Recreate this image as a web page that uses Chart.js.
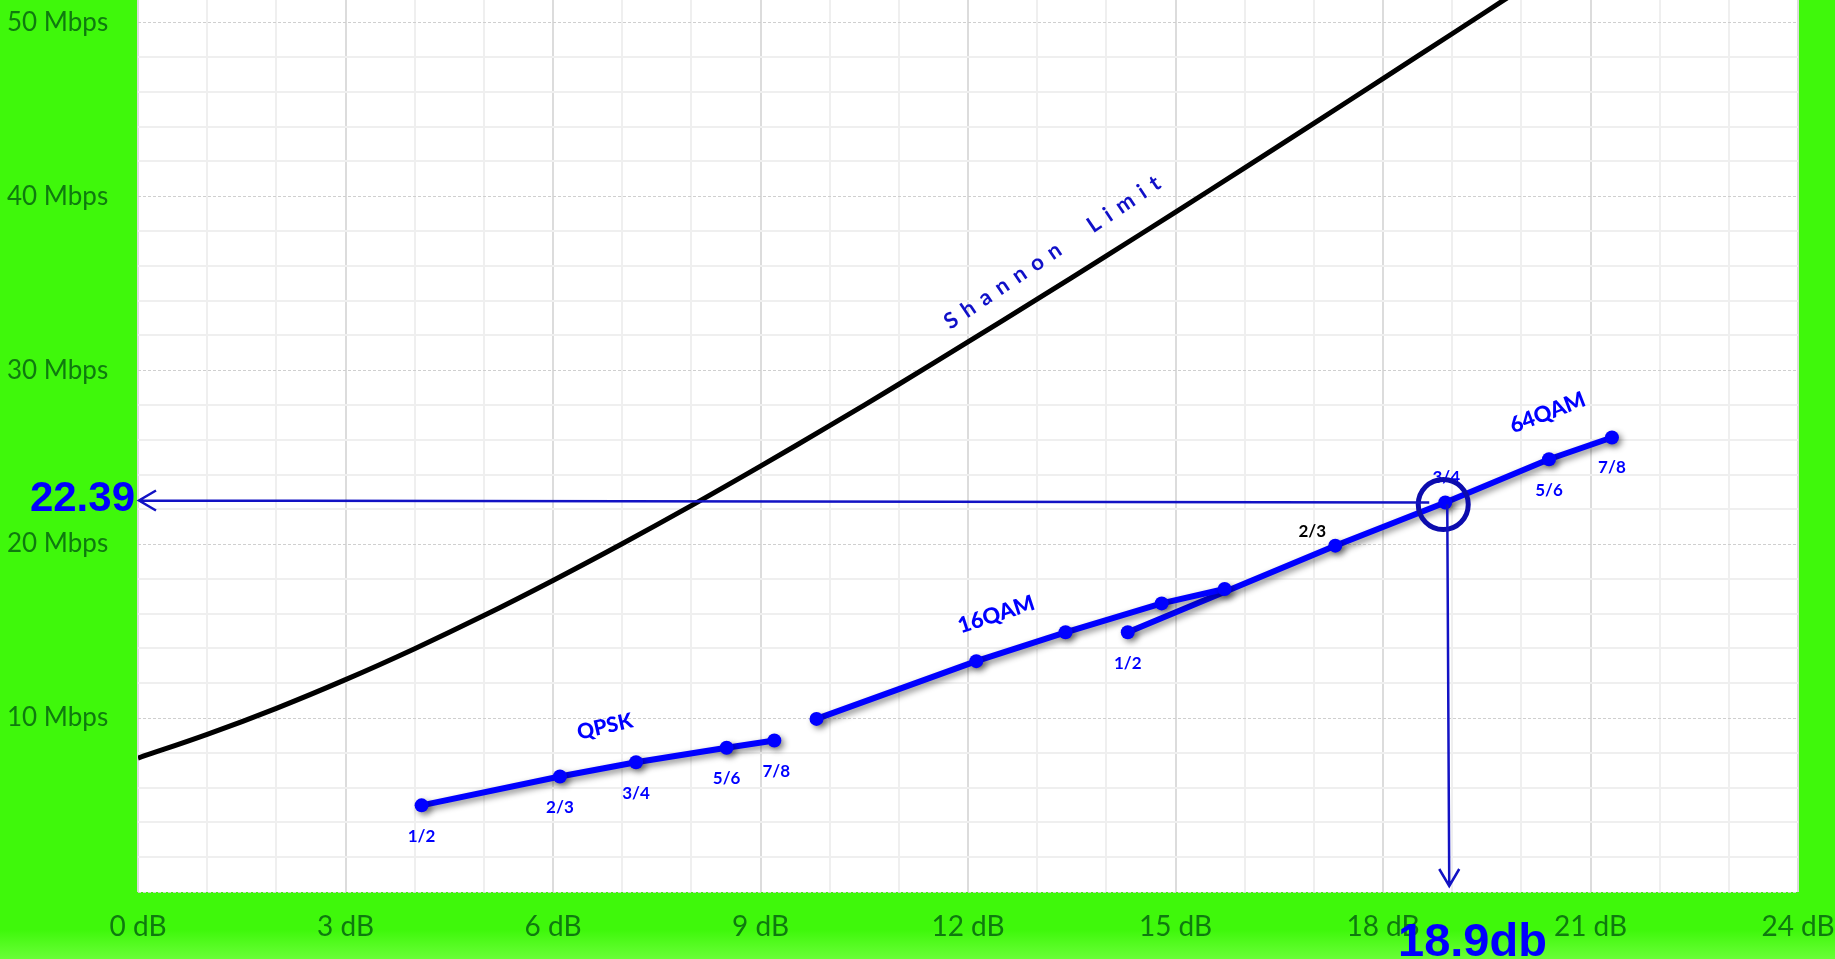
<!DOCTYPE html>
<html>
<head>
<meta charset="utf-8">
<script src="https://cdn.jsdelivr.net/npm/chart.js@4"></script>
<style>
  html, body { margin: 0; padding: 0; background: #3ff80b; }
  #wrap { width: 1835px; height: 959px; }
</style>
</head>
<body>
<div id="wrap"><canvas id="snr-chart" width="1835" height="959"></canvas></div>
<script>
// Shannon limit, every 1 dB
var snrDb = [0, 1, 2, 3, 4, 5, 6, 7, 8, 9, 10, 11, 12, 13, 14, 15, 16, 17, 18, 19, 20, 21];
var shannonMbps = [7.70, 9.06, 10.56, 12.21, 13.99, 15.89, 17.91, 20.02, 22.21, 24.48, 26.81,
                   29.19, 31.62, 34.08, 36.57, 39.09, 41.63, 44.19, 46.76, 49.34, 51.93, 54.54];

// modulation / code rate points
var codeRates = ['1/2', '2/3', '3/4', '5/6', '7/8'];
var qpskDb = [4.10, 6.10, 7.20, 8.51, 9.20];
var qpskMbps = [4.98, 6.64, 7.46, 8.29, 8.71];
var qam16Db = [9.81, 12.12, 13.41, 14.80, 15.71];
var qam16Mbps = [9.95, 13.27, 14.93, 16.59, 17.42];
var qam64Db = [14.31, 17.31, 18.90, 20.40, 21.31];
var qam64Mbps = [14.93, 19.91, 22.39, 24.88, 26.13];

// marked operating point
var pickDb = 18.9;
var pickMbps = 22.39;

function pts(xs, ys) {
  return xs.map(function (x, i) { return { x: x, y: ys[i] }; });
}

var green = '#3ff80b';
var tickGreen = '#0f7a0f';
var blue = '#0000ff';
var navy = '#1212c4';

var bgPlugin = {
  id: 'bg',
  beforeDraw: function (chart) {
    var c = chart.ctx, a = chart.chartArea;
    c.save();
    c.fillStyle = green;
    c.fillRect(0, 0, chart.width, chart.height);
    var g = c.createLinearGradient(0, 930, 0, chart.height);
    g.addColorStop(0, 'rgba(110,255,60,0)');
    g.addColorStop(1, 'rgba(110,255,60,0.9)');
    c.fillStyle = g;
    c.fillRect(0, 930, chart.width, chart.height - 930);
    c.fillStyle = '#fff';
    c.fillRect(a.left, a.top, a.right - a.left, a.bottom - a.top);
    c.restore();
  }
};

var shadowPlugin = {
  id: 'shadow',
  beforeDatasetDraw: function (chart, args) {
    if (args.index === 0) return;
    var c = chart.ctx;
    c.save();
    c.shadowColor = 'rgba(0,0,0,0.45)';
    c.shadowBlur = 6;
    c.shadowOffsetX = 3;
    c.shadowOffsetY = 3;
  },
  afterDatasetDraw: function (chart, args) {
    if (args.index === 0) return;
    chart.ctx.restore();
  }
};

// code rate labels: [dataset index, point index, dx, dy, colour]
var rateLabels = [
  [1, 0, 0, 31, blue], [1, 1, 0, 31, blue], [1, 2, 0, 31, blue], [1, 3, 0, 31, blue], [1, 4, 2, 31, blue],
  [3, 0, 0, 31, blue], [3, 1, -23, -14, '#000'], [3, 2, 1, -25, blue], [3, 3, 0, 31, blue], [3, 4, 0, 30, blue]
];

var notePlugin = {
  id: 'notes',
  afterDraw: function (chart) {
    var c = chart.ctx, xs = chart.scales.x, ys = chart.scales.y;
    c.save();
    c.textAlign = 'center';
    c.textBaseline = 'middle';

    c.font = 'bold 17px Lato';
    rateLabels.forEach(function (r) {
      var p = chart.getDatasetMeta(r[0]).data[r[1]];
      c.fillStyle = r[4];
      c.fillText(codeRates[r[1]], p.x + r[2], p.y + r[3]);
    });

    function rotText(txt, dx, my, deg, font, color, spacing) {
      c.save();
      c.translate(xs.getPixelForValue(dx), ys.getPixelForValue(my));
      c.rotate(deg * Math.PI / 180);
      c.font = font;
      c.fillStyle = color;
      c.letterSpacing = spacing || '0px';
      c.fillText(txt, 0, 0);
      c.restore();
    }
    rotText('QPSK', 6.75, 9.5, -13, '900 21px Lato', blue);
    rotText('16QAM', 12.41, 15.95, -18, '900 22px Lato', blue);
    rotText('64QAM', 20.38, 27.55, -21, '900 22px Lato', blue);
    rotText('Shannon  Limit', 13.27, 36.9, -34, 'bold 22px Lato', '#1010c8', '8.5px');

    // circle + arrows to the axes
    var p = chart.getDatasetMeta(3).data[2];
    var cx = p.x - 2, cy = p.y + 2;
    c.strokeStyle = '#0c0cae';
    c.lineWidth = 5;
    c.beginPath();
    c.arc(cx, cy, 25, 0, Math.PI * 2);
    c.stroke();

    c.strokeStyle = navy;
    c.lineWidth = 2.5;
    var leftX = chart.chartArea.left + 1;
    var hy0 = cy - 2, hy1 = cy - 4;
    c.beginPath();
    c.moveTo(cx - 14, hy0);
    c.lineTo(leftX, hy1);
    c.moveTo(leftX + 17, hy1 - 10);
    c.lineTo(leftX, hy1);
    c.lineTo(leftX + 17, hy1 + 10);
    c.stroke();

    var vx = xs.getPixelForValue(pickDb) + 4;
    var bottomY = chart.chartArea.bottom - 6;
    c.beginPath();
    c.moveTo(vx - 2, cy);
    c.lineTo(vx, bottomY);
    c.moveTo(vx - 10, bottomY - 17);
    c.lineTo(vx, bottomY);
    c.lineTo(vx + 10, bottomY - 17);
    c.stroke();

    c.fillStyle = blue;
    c.font = 'bold 42px "Liberation Sans", Arial';
    c.textAlign = 'right';
    c.textBaseline = 'alphabetic';
    c.fillText(pickMbps.toFixed(2), 135, 511);
    c.font = 'bold 47px "Liberation Sans", Arial';
    c.textAlign = 'left';
    c.fillText(pickDb + 'db', 1398, 956);
    c.restore();
  }
};

var snrChart = new Chart(document.getElementById('snr-chart'), {
  type: 'line',
  data: {
    datasets: [
      {
        label: 'Shannon Limit',
        data: pts(snrDb, shannonMbps),
        borderColor: '#000',
        borderWidth: 5,
        pointRadius: 0,
        tension: 0.4,
        fill: false
      },
      {
        label: 'QPSK',
        data: pts(qpskDb, qpskMbps),
        borderColor: blue,
        backgroundColor: blue,
        borderWidth: 6,
        pointRadius: 7,
        pointBorderWidth: 0,
        fill: false
      },
      {
        label: '16QAM',
        data: pts(qam16Db, qam16Mbps),
        borderColor: blue,
        backgroundColor: blue,
        borderWidth: 6,
        pointRadius: 7,
        pointBorderWidth: 0,
        fill: false
      },
      {
        label: '64QAM',
        data: pts(qam64Db, qam64Mbps),
        borderColor: blue,
        backgroundColor: blue,
        borderWidth: 6,
        pointRadius: 7,
        pointBorderWidth: 0,
        fill: false
      }
    ]
  },
  options: {
    responsive: false,
    devicePixelRatio: 1,
    animation: false,
    layout: { autoPadding: false, padding: { left: 7, right: 37, top: 0, bottom: 0 } },
    plugins: { legend: { display: false }, tooltip: { enabled: false } },
    scales: {
      x: {
        type: 'linear',
        min: 0,
        max: 24,
        ticks: {
          stepSize: 1,
          autoSkip: false,
          maxRotation: 0,
          padding: 18,
          color: tickGreen,
          font: { family: 'Lato', size: 28 },
          callback: function (v) { return v % 3 === 0 ? v + ' dB' : ''; }
        },
        grid: {
          drawTicks: false,
          lineWidth: 2,
          color: function (ctx) { return ctx.tick && ctx.tick.value % 3 === 0 ? '#dcdcdc' : '#efefef'; }
        },
        border: { display: false },
        afterFit: function (s) { s.height = 67; s.paddingLeft = 0; s.paddingRight = 0; }
      },
      y: {
        min: 0,
        max: 51.28,
        ticks: {
          stepSize: 2,
          includeBounds: false,
          autoSkip: false,
          crossAlign: 'far',
          padding: 0,
          color: tickGreen,
          font: { family: 'Lato', size: 26 },
          callback: function (v) { return v % 10 === 0 && v > 0 ? v + ' Mbps' : ''; }
        },
        grid: {
          drawTicks: false,
          lineWidth: function (ctx) { return ctx.tick && ctx.tick.value % 10 === 0 ? 1 : 2; },
          color: function (ctx) { return ctx.tick && ctx.tick.value % 10 === 0 ? '#cfcfcf' : '#efefef'; }
        },
        border: {
          display: false,
          dash: function (ctx) { return ctx.tick && ctx.tick.value % 10 === 0 ? [3, 2] : []; }
        },
        afterFit: function (s) { s.width = 131; s.paddingTop = 0; s.paddingBottom = 0; }
      }
    }
  },
  plugins: [bgPlugin, shadowPlugin, notePlugin]
});
</script>
</body>
</html>
